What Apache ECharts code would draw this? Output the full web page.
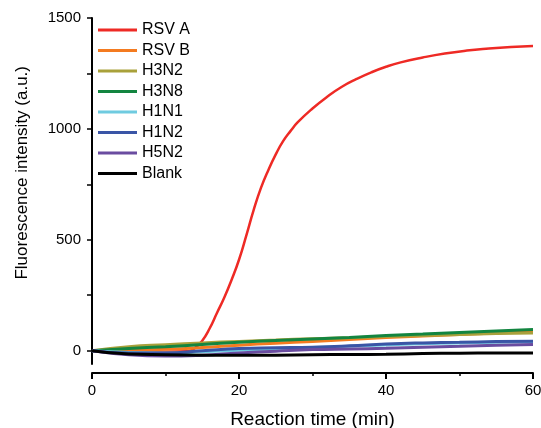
<!DOCTYPE html>
<html>
<head>
<meta charset="utf-8">
<script src="https://cdn.jsdelivr.net/npm/echarts@6/dist/echarts.min.js"></script>
<style>html,body{margin:0;padding:0;background:#fff}#c{width:541px;height:428px}</style>
</head>
<body>
<div id="c"></div>
<script>
var seriesNames = ['RSV A','RSV B','H3N2','H3N8','H1N1','H1N2','H5N2','Blank'];
var seriesColors = ['#ee2a25','#f47b20','#a9a13b','#138540','#6fcbe0','#3a55a6','#6a4ca0','#000000'];
var rsvATime = [0,5,10,13,14,15,16,17,18,19,20,21,22,23,24,25,26,27,28,30,32,34,36,38,40,42,45,48,51,54,57,60];
var rsvAValues = [0,-3,-5,-3,12,45,100,170,240,320,410,520,635,735,815,885,945,990,1030,1092,1145,1190,1225,1255,1280,1300,1322,1340,1353,1362,1369,1374];
var lowTime = [0,5,10,15,20,25,30,35,40,45,50,55,60];
var rsvBValues = [0,2,6,14,25,34,42,50,59,66,73,80,86];
var h3n2Values = [0,18,27,35,42,48,54,58,64,69,73,77,80];
var h3n8Values = [0,10,18,28,38,46,53,60,68,75,82,89,95];
var h1n1Values = [0,-8,-10,-5,2,8,14,20,26,31,35,38,40];
var h1n2Values = [0,-10,-10,0,10,13,16,22,30,35,38,41,43];
var h5n2Values = [0,-18,-24,-20,-10,-2,5,8,11,16,20,24,28];
var blankValues = [0,-15,-18,-20,-21,-20,-18,-17,-16,-13,-11,-10,-10];
var yLabelValues = [0,500,1000,1500];
var yTickValues = [0,250,500,750,1000,1250,1500];

function pairs(xs, ys){ return xs.map(function(x,i){ return [x, ys[i]]; }); }
var allData = [
  pairs(rsvATime, rsvAValues),
  pairs(lowTime, rsvBValues),
  pairs(lowTime, h3n2Values),
  pairs(lowTime, h3n8Values),
  pairs(lowTime, h1n1Values),
  pairs(lowTime, h1n2Values),
  pairs(lowTime, h5n2Values),
  pairs(lowTime, blankValues)
];
var font = 'Liberation Sans, Arial, sans-serif';
var chart = echarts.init(document.getElementById('c'), null, {renderer:'canvas'});
chart.setOption({
  animation:false,
  backgroundColor:'#fff',
  grid:{left:92,right:8,top:18,bottom:64,containLabel:false,outerBoundsMode:'none'},
  legend:{
    left:98, top:22, orient:'vertical', itemWidth:39, itemHeight:3, itemGap:4.5, icon:'rect', padding:0,
    textStyle:{fontFamily:font,fontSize:16,color:'#000'},
    data:seriesNames
  },
  xAxis:{
    type:'value', min:0, max:60, interval:20, offset:9,
    name:'Reaction time (min)', nameLocation:'middle', nameGap:37,
    nameTextStyle:{fontFamily:font,fontSize:19,color:'#000'},
    axisLine:{onZero:false,lineStyle:{color:'#000',width:2}},
    axisTick:{inside:false,length:6,lineStyle:{color:'#000',width:2}},
    minorTick:{show:true,splitNumber:2,length:3,lineStyle:{color:'#000',width:1.5}},
    axisLabel:{fontFamily:font,fontSize:15,color:'#000',margin:10},
    splitLine:{show:false}
  },
  yAxis:{
    type:'value', min:-60, max:1500,
    axisLine:{show:true,onZero:false,lineStyle:{color:'#000',width:2}},
    axisTick:{show:true,length:5,customValues:yTickValues,lineStyle:{color:'#000',width:1.5}},
    axisLabel:{fontFamily:font,fontSize:15,color:'#000',margin:11,customValues:yLabelValues,
      formatter:function(v){ return String(v); }},
    splitLine:{show:false}
  },
  graphic:[{
    type:'text', left:14, top:66,
    style:{text:'Fluorescence intensity (a.u.)', font:'17px '+font, fill:'#000'},
    rotation:Math.PI/2, originX:0, originY:0
  }],
  series: seriesNames.map(function(n,i){
    return {
      name:n, type:'line', data:allData[i], smooth:0.5, showSymbol:false, symbol:'none',
      color:seriesColors[i],
      lineStyle:{width:i===0?2.5:3,color:seriesColors[i]}
    };
  })
});
</script>
</body>
</html>
